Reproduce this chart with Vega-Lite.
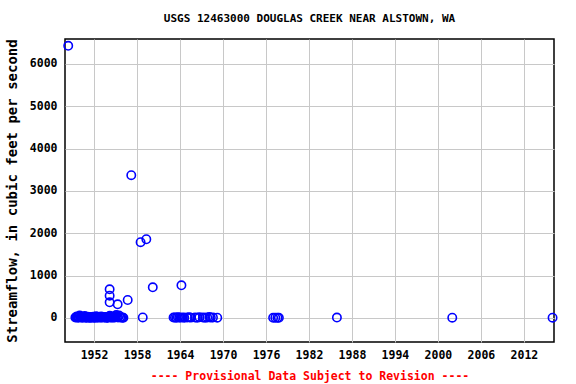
{
  "$schema": "https://vega.github.io/schema/vega-lite/v6.json",
  "width": 489,
  "height": 303,
  "autosize": "none",
  "padding": {"left": 65, "top": 39, "right": 22, "bottom": 42},
  "background": "white",
  "title": {
    "text": "USGS 12463000 DOUGLAS CREEK NEAR ALSTOWN, WA",
    "font": "DejaVu Sans Mono",
    "fontSize": 11,
    "fontWeight": "bold",
    "color": "black",
    "anchor": "middle",
    "offset": 14
  },
  "config": {
    "view": {"stroke": "black", "strokeWidth": 1.5},
    "axis": {
      "labelFont": "DejaVu Sans Mono",
      "labelFontWeight": "bold",
      "labelFontSize": 11.5,
      "labelColor": "black",
      "titleFont": "DejaVu Sans Mono",
      "titleFontWeight": "bold",
      "ticks": false,
      "domain": false,
      "gridColor": "#c8c8c8",
      "gridWidth": 1,
      "gridOpacity": 1
    }
  },
  "data": {
    "values": [
      {"year": 1948.4, "flow": 6430},
      {"year": 1949.4, "flow": 12}, {"year": 1949.5, "flow": 20}, {"year": 1949.6, "flow": 35}, {"year": 1949.7, "flow": 15},
      {"year": 1949.8, "flow": 8}, {"year": 1949.9, "flow": 25}, {"year": 1950.0, "flow": 60}, {"year": 1950.1, "flow": 18},
      {"year": 1950.2, "flow": 10}, {"year": 1950.3, "flow": 30}, {"year": 1950.4, "flow": 14}, {"year": 1950.5, "flow": 9},
      {"year": 1950.6, "flow": 22}, {"year": 1950.7, "flow": 45}, {"year": 1950.8, "flow": 16}, {"year": 1950.9, "flow": 7},
      {"year": 1951.0, "flow": 12}, {"year": 1951.1, "flow": 28}, {"year": 1951.2, "flow": 19}, {"year": 1951.3, "flow": 11},
      {"year": 1951.4, "flow": 6}, {"year": 1951.5, "flow": 24}, {"year": 1951.6, "flow": 13}, {"year": 1951.7, "flow": 9},
      {"year": 1951.8, "flow": 17}, {"year": 1951.9, "flow": 30}, {"year": 1952.0, "flow": 12}, {"year": 1952.1, "flow": 8},
      {"year": 1952.2, "flow": 20}, {"year": 1952.3, "flow": 40}, {"year": 1952.4, "flow": 14}, {"year": 1952.5, "flow": 10},
      {"year": 1952.6, "flow": 25}, {"year": 1952.7, "flow": 21}, {"year": 1952.8, "flow": 9}, {"year": 1952.9, "flow": 15},
      {"year": 1953.0, "flow": 33}, {"year": 1953.1, "flow": 12}, {"year": 1953.2, "flow": 18}, {"year": 1953.3, "flow": 26},
      {"year": 1953.4, "flow": 11}, {"year": 1953.5, "flow": 20}, {"year": 1953.6, "flow": 18}, {"year": 1953.7, "flow": 9},
      {"year": 1953.8, "flow": 14}, {"year": 1953.9, "flow": 7}, {"year": 1954.0, "flow": 16}, {"year": 1954.1, "flow": 22},
      {"year": 1954.2, "flow": 55}, {"year": 1954.3, "flow": 19}, {"year": 1954.4, "flow": 9}, {"year": 1954.5, "flow": 15},
      {"year": 1954.6, "flow": 33}, {"year": 1954.7, "flow": 12}, {"year": 1954.8, "flow": 24}, {"year": 1954.9, "flow": 13},
      {"year": 1955.0, "flow": 40}, {"year": 1955.1, "flow": 70}, {"year": 1955.2, "flow": 26}, {"year": 1955.35, "flow": 11},
      {"year": 1955.5, "flow": 60}, {"year": 1955.65, "flow": 18}, {"year": 1955.8, "flow": 9},
      {"year": 1955.95, "flow": 14}, {"year": 1956.1, "flow": 7},
      {"year": 1954.18, "flow": 678}, {"year": 1954.18, "flow": 527}, {"year": 1954.18, "flow": 371},
      {"year": 1955.3, "flow": 324}, {"year": 1956.7, "flow": 425}, {"year": 1957.2, "flow": 3373},
      {"year": 1958.5, "flow": 1790}, {"year": 1958.8, "flow": 12}, {"year": 1959.3, "flow": 1860},
      {"year": 1960.2, "flow": 725}, {"year": 1964.2, "flow": 773},
      {"year": 1963.1, "flow": 10}, {"year": 1963.3, "flow": 14}, {"year": 1963.5, "flow": 8}, {"year": 1963.7, "flow": 20},
      {"year": 1963.9, "flow": 12}, {"year": 1964.1, "flow": 9}, {"year": 1964.4, "flow": 15}, {"year": 1964.6, "flow": 7},
      {"year": 1965.0, "flow": 11}, {"year": 1965.3, "flow": 18}, {"year": 1965.5, "flow": 9}, {"year": 1966.1, "flow": 13},
      {"year": 1966.4, "flow": 8}, {"year": 1966.7, "flow": 16}, {"year": 1967.2, "flow": 10}, {"year": 1967.5, "flow": 7},
      {"year": 1967.8, "flow": 12}, {"year": 1968.1, "flow": 25}, {"year": 1968.3, "flow": 9}, {"year": 1968.6, "flow": 14},
      {"year": 1969.2, "flow": 8},
      {"year": 1977.0, "flow": 5}, {"year": 1977.3, "flow": 8}, {"year": 1977.6, "flow": 6}, {"year": 1977.8, "flow": 4},
      {"year": 1985.9, "flow": 10},
      {"year": 2002.0, "flow": 8},
      {"year": 2016.0, "flow": 6}
    ]
  },
  "mark": {"type": "point", "shape": "circle", "filled": false, "color": "#0000ff", "size": 70, "strokeWidth": 1.6, "opacity": 1, "clip": false},
  "encoding": {
    "x": {
      "field": "year",
      "type": "quantitative",
      "scale": {"domain": [1947.95, 2016.2], "nice": false, "zero": false},
      "axis": {
        "values": [1952, 1958, 1964, 1970, 1976, 1982, 1988, 1994, 2000, 2006, 2012],
        "format": "d",
        "labelPadding": 7,
        "title": "---- Provisional Data Subject to Revision ----",
        "titleColor": "#ff0000",
        "titleFontSize": 11.5,
        "titlePadding": 10
      }
    },
    "y": {
      "field": "flow",
      "type": "quantitative",
      "scale": {"domain": [-567, 6590], "nice": false, "zero": false},
      "axis": {
        "values": [0, 1000, 2000, 3000, 4000, 5000, 6000],
        "format": "d",
        "labelPadding": 8,
        "title": "Streamflow, in cubic feet per second",
        "titleColor": "black",
        "titleFontSize": 14,
        "titlePadding": 10
      }
    }
  }
}
